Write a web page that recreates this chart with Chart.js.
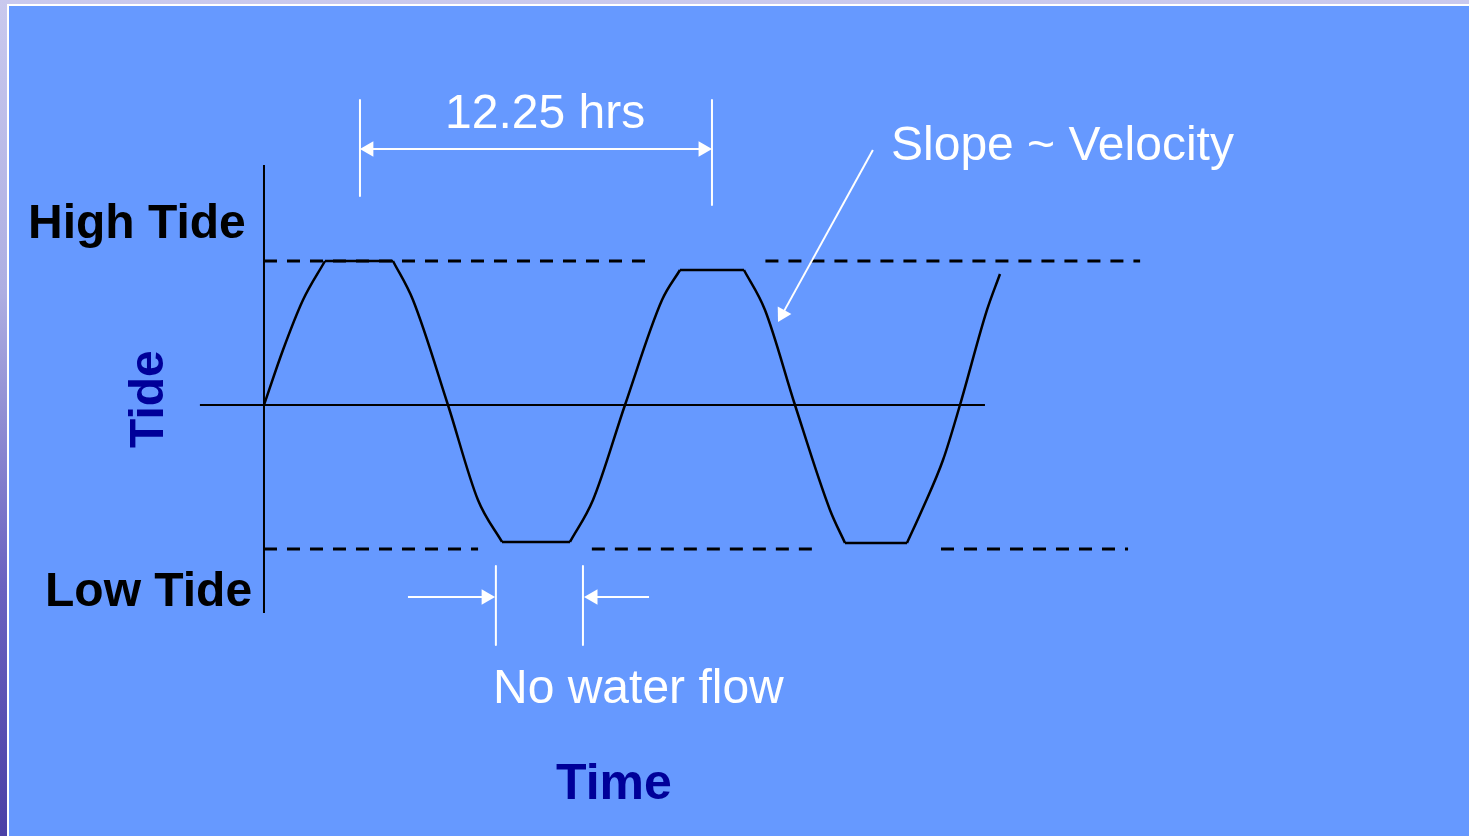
<!DOCTYPE html>
<html lang="en">
<head>
<meta charset="UTF-8">
<title>Tide vs Time</title>
<style>
  html, body { margin: 0; padding: 0; }
  body { width: 1469px; height: 836px; overflow: hidden; position: relative;
    background: linear-gradient(to bottom, #c9c9ee 0%, #adaee2 35%, #6a62c0 70%, #4a40a6 100%); }
  #panel { position: absolute; left: 7px; top: 4px; right: 0; bottom: 0;
    border-left: 2px solid #fff; border-top: 2px solid #fff; background: #6699ff; }
  #chart { position: absolute; left: 0; top: 0; }
</style>
<script src="https://cdn.jsdelivr.net/npm/chart.js"></script>
</head>
<body>
<div id="panel"></div>
<canvas id="chart" width="1469" height="836"></canvas>
<script>
// tide curve: time in hours, level where +1 = high tide, -1 = low tide
const waveHours = [0, 0.661, 1.357, 2.123, 4.489, 5.185, 6.403, 7.447, 8.283,
  10.649, 11.449, 12.563, 13.851, 14.477, 16.704, 17.435, 18.479, 19.697, 20.219,
  22.377, 22.899, 23.630, 24.221, 25.161, 25.613];
const waveTide = [0, 0.382, 0.729, 1.0, 1.0, 0.729, 0, -0.66, -0.951,
  -0.951, -0.66, 0, 0.729, 0.9375, 0.9375, 0.66, 0, -0.729, -0.958,
  -0.958, -0.729, -0.382, 0, 0.66, 0.91];
// indexes where the curve turns into a flat (slack water) stretch
const breaks = [0, 3, 4, 8, 9, 13, 14, 18, 19, 24];

const highTide = 1;
const lowTide = -1;
// dashed reference line pieces [start, end] in hours
const highSegments = [[0, 13.43], [17.45, 30.49]];
const lowSegments = [[0, 7.45], [11.41, 19.17], [23.56, 30.07]];

// axes
const midLine = [-2.23, 25.09];
const tideAxis = [-1.444, 1.667];

// period marker (12.25 hrs between the two high tides)
const peakHours = [3.34, 15.59];
const periodArrowY = 1.778;
// slack water marker
const slackHours = [8.07, 11.10];
const slackArrowY = -1.333;

function seg(x0, y0, x1, y1) { return [{ x: x0, y: y0 }, { x: x1, y: y1 }]; }

const black = '#000000';
const white = '#ffffff';
function lineSet(data, color, width, extra) {
  return Object.assign({
    data, borderColor: color, borderWidth: width, pointRadius: 0,
    fill: false, tension: 0, borderCapStyle: 'butt', borderJoinStyle: 'round'
  }, extra || {});
}
function arrowSet(data, radii, rotations) {
  return lineSet(data, white, 2, {
    pointRadius: radii, pointStyle: 'triangle', pointRotation: rotations,
    pointBackgroundColor: white, pointBorderWidth: 0, order: 1
  });
}

// split the curve into smooth flanks and straight flats
const wavePts = waveHours.map((h, i) => ({ x: h, y: waveTide[i] }));
const waveSets = [];
for (let b = 0; b < breaks.length - 1; b++) {
  const part = wavePts.slice(breaks[b], breaks[b + 1] + 1);
  const flat = b % 2 === 1;
  waveSets.push(lineSet(part, black, 2.5,
    flat ? { order: 0 } : { cubicInterpolationMode: 'monotone', order: 0 }));
}

const datasets = [
  ...waveSets,
  lineSet(seg(midLine[0], 0, midLine[1], 0), black, 2, { order: 2 }),
  lineSet(seg(0, tideAxis[0], 0, tideAxis[1]), black, 2, { order: 2 }),
  ...highSegments.map(s => lineSet(seg(s[0], highTide, s[1], highTide), black, 3, { borderDash: [13, 10], order: 3 })),
  ...lowSegments.map(s => lineSet(seg(s[0], lowTide, s[1], lowTide), black, 3, { borderDash: [13, 10], order: 3 })),
  lineSet(seg(peakHours[0], 2.118, peakHours[0], 1.451), white, 2, { order: 1 }),
  lineSet(seg(peakHours[1], 2.118, peakHours[1], 1.389), white, 2, { order: 1 }),
  arrowSet(seg(peakHours[0] + 0.31, periodArrowY, peakHours[1] - 0.31, periodArrowY), [9, 9], [270, 90]),
  arrowSet(seg(21.19, 1.771, 18.04, 0.631), [0, 9], [0, 208.9]),
  lineSet(seg(slackHours[0], -1.118, slackHours[0], -1.667), white, 2, { order: 1 }),
  lineSet(seg(slackHours[1], -1.118, slackHours[1], -1.667), white, 2, { order: 1 }),
  arrowSet(seg(5.01, slackArrowY, slackHours[0] - 0.34, slackArrowY), [0, 9], [0, 90]),
  arrowSet(seg(13.40, slackArrowY, slackHours[1] + 0.35, slackArrowY), [0, 9], [0, 270])
];

const FONT = '"Liberation Sans", Arial, sans-serif';
const textPlugin = {
  id: 'texts',
  afterDraw(chart) {
    const ctx = chart.ctx;
    ctx.save();
    ctx.textBaseline = 'alphabetic';
    ctx.textAlign = 'left';
    ctx.fillStyle = black;
    ctx.font = 'bold 48px ' + FONT;
    ctx.fillText('High Tide', 28, 238);
    ctx.fillText('Low Tide', 45, 606);
    ctx.fillStyle = '#000099';
    ctx.font = 'bold 50px ' + FONT;
    ctx.fillText('Time', 556, 799);
    ctx.font = 'bold 48px ' + FONT;
    ctx.save();
    ctx.translate(163, 448);
    ctx.rotate(-Math.PI / 2);
    ctx.fillText('Tide', 0, 0);
    ctx.restore();
    ctx.fillStyle = white;
    ctx.font = '48px ' + FONT;
    ctx.fillText('12.25 hrs', 445, 128);
    ctx.fillText('Slope ~ Velocity', 891, 160);
    ctx.fillText('No water flow', 493, 703);
    ctx.restore();
  }
};

new Chart(document.getElementById('chart'), {
  type: 'line',
  data: { datasets },
  options: {
    responsive: false,
    animation: false,
    events: [],
    layout: { padding: 0, autoPadding: false },
    plugins: { legend: { display: false }, tooltip: { enabled: false } },
    scales: {
      x: { type: 'linear', display: false, min: -9.187, max: 41.935 },
      y: { type: 'linear', display: false, min: -2.993, max: 2.8125 }
    }
  },
  plugins: [textPlugin]
});
</script>
</body>
</html>
